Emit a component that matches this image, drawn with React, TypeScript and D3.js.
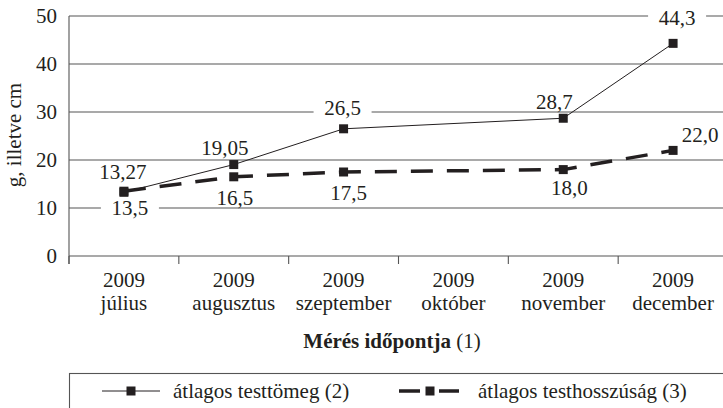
import React from "react";
import * as d3 from "d3";

const years = ["2009", "2009", "2009", "2009", "2009", "2009"];
const months = ["július", "augusztus", "szeptember", "október", "november", "december"];
const testtomeg: (number | null)[] = [13.27, 19.05, 26.5, null, 28.7, 44.3];
const testhossz: (number | null)[] = [13.5, 16.5, 17.5, null, 18.0, 22.0];
const yTicks = [0, 10, 20, 30, 40, 50];
const seriesNames = ["átlagos testtömeg (2)", "átlagos testhosszúság (3)"];
const yTitle = "g, illetve cm";
const xTitleBold = "Mérés időpontja";
const xTitleRest = " (1)";

// label offsets (layout)
const off1 = [[-1, -20], [-9, -17], [-1, -21], [0, 0], [-9, -16], [4, -25]];
const off2 = [[6, 17], [1, 21], [5, 21], [0, 0], [6, 18], [27, -15]];

const W = 723, H = 408;
const FONT = "Liberation Serif";
const FS = 21;
const INK = "#231f20";
const GRID = "#555";

export default function App() {
  const x = d3.scaleBand<number>().domain(d3.range(months.length)).range([69, 728]).padding(0);
  const y = d3.scaleLinear().domain([0, 50]).range([256, 16]);
  const cx = (i: number) => (x(i) as number) + x.bandwidth() / 2;

  const pts = (vals: (number | null)[]) =>
    vals.map((v, i) => ({ v, i })).filter((d) => d.v !== null) as { v: number; i: number }[];
  const p1 = pts(testtomeg);
  const p2 = pts(testhossz);
  const line = d3
    .line<{ v: number; i: number }>()
    .x((d) => cx(d.i))
    .y((d) => y(d.v));

  const fmt1 = (v: number) => String(v).replace(".", ",");
  const fmt2 = (v: number) => v.toFixed(1).replace(".", ",");

  const labels = [
    ...p1.map((d) => ({ t: fmt1(d.v), x: cx(d.i) + off1[d.i][0], y: y(d.v) + off1[d.i][1] })),
    ...p2.map((d) => ({ t: fmt2(d.v), x: cx(d.i) + off2[d.i][0], y: y(d.v) + off2[d.i][1] })),
  ];
  const ms = 9;
  const boundaries = d3.range(months.length + 1).map((i) => 69 + i * x.bandwidth());
  const ts: React.CSSProperties = { fontFamily: FONT };

  return (
    <svg width={W} height={H} style={{ position: "absolute", left: 0, top: 0, background: "#fff", fontFamily: FONT }}>
      <rect width={W} height={H} fill="#fff" />
      {yTicks.filter((t) => t > 0).map((t) => (
        <line key={t} x1={69} x2={728} y1={y(t)} y2={y(t)} stroke={GRID} strokeWidth={1.1} />
      ))}
      <line x1={69} x2={728} y1={y(0)} y2={y(0)} stroke={GRID} strokeWidth={1.1} />
      <line x1={69} x2={69} y1={y(50)} y2={y(0) + 8} stroke={GRID} strokeWidth={1.1} />
      {boundaries.map((b, i) => (
        <line key={i} x1={b} x2={b} y1={y(0)} y2={y(0) + 8} stroke={GRID} strokeWidth={1.1} />
      ))}
      {yTicks.map((t) => (
        <text key={t} style={ts} x={57} y={y(t) + 7} textAnchor="end" fontSize={FS} fill={INK}>{t}</text>
      ))}
      {months.map((m, i) => (
        <g key={i}>
          <text style={ts} x={cx(i)} y={287} textAnchor="middle" fontSize={FS} fill={INK}>{years[i]}</text>
          <text style={ts} x={cx(i)} y={310} textAnchor="middle" fontSize={FS} fill={INK}>{m}</text>
        </g>
      ))}
      {labels.map((l, k) => (
        <rect key={k} x={l.x - 29} y={l.y - 7.5} width={58} height={15} fill="#fff" />
      ))}
      <path d={line(p1) || ""} fill="none" stroke={INK} strokeWidth={1} />
      <path d={line(p2) || ""} fill="none" stroke={INK} strokeWidth={3.5} strokeDasharray="22,14" />
      {p1.map((d) => (
        <rect key={"a" + d.i} x={cx(d.i) - ms / 2} y={y(d.v) - ms / 2} width={ms} height={ms} fill={INK} />
      ))}
      {p2.map((d) => (
        <rect key={"b" + d.i} x={cx(d.i) - ms / 2} y={y(d.v) - ms / 2} width={ms} height={ms} fill={INK} />
      ))}
      {labels.map((l, k) => (
        <text key={k} style={ts} x={l.x} y={l.y + 7} textAnchor="middle" fontSize={FS} fill={INK}>{l.t}</text>
      ))}
      <text style={ts} transform="translate(21,135) rotate(-90)" textAnchor="middle" fontSize={FS} fill={INK}>{yTitle}</text>
      <text style={ts} x={392} y={348} textAnchor="middle" fontSize={FS} fill={INK}>
        <tspan fontWeight="bold">{xTitleBold}</tspan>
        <tspan>{xTitleRest}</tspan>
      </text>
      <rect x={69.5} y={373.5} width={700} height={80} fill="none" stroke={GRID} strokeWidth={1.1} />
      <line x1={102} x2={160} y1={391} y2={391} stroke={INK} strokeWidth={1} />
      <rect x={131 - ms / 2} y={391 - ms / 2} width={ms} height={ms} fill={INK} />
      <text style={ts} x={173} y={398} fontSize={FS} fill={INK}>{seriesNames[0]}</text>
      <line x1={399} x2={459} y1={391} y2={391} stroke={INK} strokeWidth={3.5} strokeDasharray="21,19,21" />
      <rect x={430 - ms / 2} y={391 - ms / 2} width={ms} height={ms} fill={INK} />
      <text style={ts} x={478} y={398} fontSize={FS} fill={INK}>{seriesNames[1]}</text>
    </svg>
  );
}
